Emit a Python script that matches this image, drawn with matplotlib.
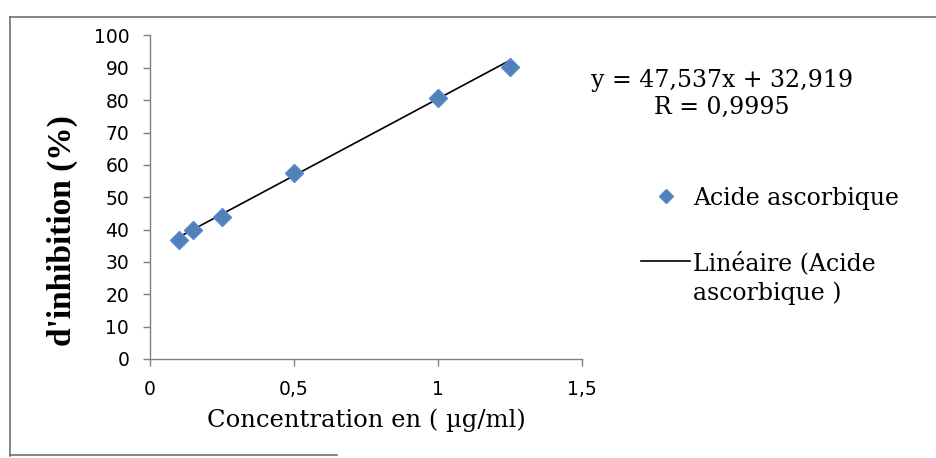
import matplotlib
matplotlib.use('Agg')
import matplotlib.pyplot as plt
import matplotlib.lines as mlines

# data
conc = [0.1, 0.15, 0.25, 0.5, 1.0, 1.25]
inhib = [36.8, 39.9, 43.8, 57.4, 80.6, 90.2]
slope = 47.537
intercept = 32.919
eq_text = 'y = 47,537x + 32,919\nR = 0,9995'
xticks = [0, 0.5, 1, 1.5]
xtick_labels = ['0', '0,5', '1', '1,5']
yticks = list(range(0, 101, 10))

serif = 'DejaVu Serif'
blue = '#4f81bd'

fig = plt.figure(figsize=(9.36, 4.58), dpi=100)
ax = fig.add_axes([0.1603, 0.2162, 0.4615, 0.7063])

ax.plot(conc, inhib, linestyle='none', marker='D', markersize=9,
        color=blue, markeredgecolor='#5a8ac6', label='Acide ascorbique', zorder=3)
xf = [min(conc), max(conc)]
yf = [slope * v + intercept for v in xf]
ax.plot(xf, yf, color='k', lw=1.2, label='Linéaire (Acide', zorder=2)

ax.set_xlim(0, 1.5)
ax.set_ylim(0, 100)
ax.set_xticks(xticks)
ax.set_xticklabels(xtick_labels)
ax.set_yticks(yticks)

for s in ['top', 'right']:
    ax.spines[s].set_visible(False)
for s in ['left', 'bottom']:
    ax.spines[s].set_color('#808080')
    ax.spines[s].set_linewidth(1.0)

ax.tick_params(axis='both', direction='out', length=5, width=1, color='#808080',
               labelsize=13.5, pad=10)
for t in ax.get_xticklabels() + ax.get_yticklabels():
    t.set_fontfamily('DejaVu Sans')

ax.set_xlabel('Concentration en ( \u00b5g/ml)', fontsize=17.5, family=serif, labelpad=7)
ax.set_ylabel("d'inhibition (%)", fontsize=24, family='Liberation Serif',
              fontweight='bold')
ax.yaxis.set_label_coords(-0.167, 0.396)

fig.text(0.771, 0.795, eq_text, ha='center', va='center', multialignment='center',
         fontsize=17, family=serif, linespacing=1.25)

leg = ax.legend(loc='upper left', bbox_to_anchor=(0.662, 0.639),
                bbox_transform=fig.transFigure, frameon=False,
                prop={'family': serif, 'size': 17}, handlelength=2.1,
                handletextpad=0.1, labelspacing=1.75, markerscale=0.8)
# second line of the trendline label, set under the first
ax.annotate('ascorbique )', xy=(0, 0), xycoords=leg.get_texts()[1],
            xytext=(0, -5), textcoords='offset points', ha='left', va='top',
            fontsize=17, family=serif, zorder=10)

# scan frame
frame_c = '#707070'
fig.add_artist(mlines.Line2D([0.0107, 0.0107], [0.004, 0.962], color=frame_c, lw=1.2,
                             transform=fig.transFigure))
fig.add_artist(mlines.Line2D([0.0107, 1.0], [0.962, 0.962], color=frame_c, lw=1.2,
                             transform=fig.transFigure))
fig.add_artist(mlines.Line2D([0.0107, 0.36], [0.006, 0.006], color=frame_c, lw=1.2,
                             transform=fig.transFigure))

fig.savefig('out.png', dpi=100)
